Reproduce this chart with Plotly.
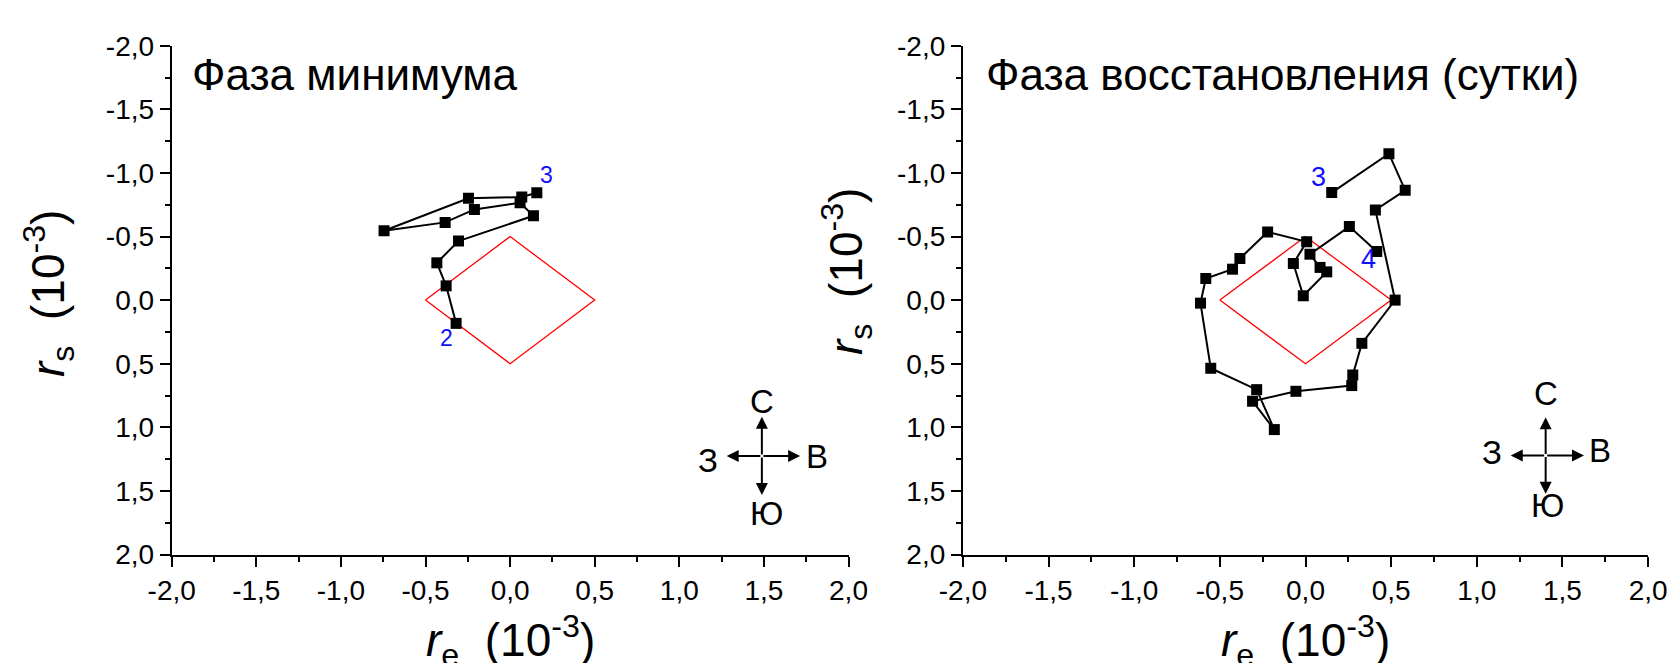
import plotly.graph_objects as go

# ---- data (units of 1e-3) ----
left_re = [-0.319, -0.378, -0.433, -0.305, 0.138, 0.059, -0.211, -0.384, -0.745, -0.246, 0.069, 0.158]
left_rs = [0.183, -0.112, -0.293, -0.464, -0.663, -0.765, -0.713, -0.611, -0.545, -0.800, -0.810, -0.844]

right_re = [0.153, 0.487, 0.582, 0.408, 0.523, 0.329, 0.276, 0.270, -0.056, -0.309, -0.182, -0.285,
            -0.553, -0.613, -0.582, -0.426, -0.383, -0.221, 0.007, -0.071, -0.013, 0.124, 0.085,
            0.026, 0.256, 0.416]
right_rs = [-0.845, -1.151, -0.863, -0.709, 0.000, 0.340, 0.589, 0.672, 0.717, 0.795, 1.018, 0.704,
            0.536, 0.024, -0.170, -0.243, -0.327, -0.536, -0.458, -0.288, -0.034, -0.222, -0.257,
            -0.361, -0.578, -0.382]

diamond_re = [-0.5, 0.0, 0.5, 0.0, -0.5]
diamond_rs = [0.0, -0.5, 0.0, 0.5, 0.0]

tick_vals = [-2.0, -1.5, -1.0, -0.5, 0.0, 0.5, 1.0, 1.5, 2.0]
tick_text = ['-2,0', '-1,5', '-1,0', '-0,5', '0,0', '0,5', '1,0', '1,5', '2,0']

titles = ['Фаза минимума', 'Фаза восстановления (сутки)']
left_labels = [('2', -0.374, 0.30), ('3', 0.213, -0.98)]
right_labels = [('3', 0.075, -0.97), ('4', 0.368, -0.32)]
compass_letters = ['С', 'З', 'В', 'Ю']

W, H = 1671, 663
FONT = 'Liberation Sans, Arial, sans-serif'

def px_x(p):
    return p / W

def px_y(p):
    return 1 - p / H

ydom = [px_y(554.5), px_y(45.7)]
xdom_l = [px_x(171.7), px_x(848.5)]
xdom_r = [px_x(962.9), px_x(1648.1)]

fig = go.Figure()

def add_panel(xa, ya, re, rs):
    fig.add_trace(go.Scatter(x=diamond_re, y=diamond_rs, mode='lines',
                             line=dict(color='#ff0000', width=1.3),
                             xaxis=xa, yaxis=ya, showlegend=False, hoverinfo='skip'))
    fig.add_trace(go.Scatter(x=re, y=rs, mode='lines+markers',
                             line=dict(color='black', width=2),
                             marker=dict(symbol='square', size=11, color='black'),
                             xaxis=xa, yaxis=ya, showlegend=False))

add_panel('x', 'y', left_re, left_rs)
add_panel('x2', 'y2', right_re, right_rs)

axis_common = dict(
    automargin=False,
    showline=True, linecolor='black', linewidth=2, mirror=False,
    showgrid=False, zeroline=False,
    ticks='outside', ticklen=10, tickwidth=2, tickcolor='black',
    tickvals=tick_vals, ticktext=tick_text,
    tickfont=dict(family=FONT, size=28, color='black'),
    minor=dict(ticks='outside', ticklen=5, tickwidth=2, tickcolor='black', dtick=0.25, tick0=0),
)

fig.update_layout(
    template='none',
    width=W, height=H,
    margin=dict(l=0, r=0, t=0, b=0, pad=0, autoexpand=False),
    paper_bgcolor='white', plot_bgcolor='white',
    font=dict(family=FONT, color='black'),
    xaxis=dict(domain=xdom_l, range=[-2, 2], anchor='y', **axis_common),
    yaxis=dict(domain=ydom, range=[2, -2], anchor='x', **axis_common),
    xaxis2=dict(domain=xdom_r, range=[-2, 2], anchor='y2', **axis_common),
    yaxis2=dict(domain=ydom, range=[2, -2], anchor='x2', **axis_common),
)

ann = []
# panel titles
ann.append(dict(text=titles[0], xref='paper', yref='paper', x=px_x(190), y=px_y(74),
                xanchor='left', yanchor='middle', showarrow=False,
                font=dict(family=FONT, size=44, color='black')))
ann.append(dict(text=titles[1], xref='paper', yref='paper', x=px_x(984), y=px_y(74),
                xanchor='left', yanchor='middle', showarrow=False,
                font=dict(family=FONT, size=44, color='black')))

# axis titles
xt = '<i>r</i><sub>e</sub>\u00a0\u00a0(10<sup>-3</sup>)'
yt = '<i>r</i><sub>s</sub>\u00a0\u00a0(10<sup>-3</sup>)'
for xr in ('x', 'x2'):
    ann.append(dict(text=xt, xref=xr, yref='paper', x=0.0, y=px_y(640),
                    xanchor='center', yanchor='middle', showarrow=False,
                    font=dict(family=FONT, size=46, color='black')))
for px, py in ((48, 294), (846, 271)):
    ann.append(dict(text=yt, xref='paper', yref='paper', x=px_x(px), y=px_y(py),
                    xanchor='center', yanchor='middle', showarrow=False, textangle=-90,
                    font=dict(family=FONT, size=46, color='black')))

# point labels
for t, x, y in left_labels:
    ann.append(dict(text=t, xref='x', yref='y', x=x, y=y, showarrow=False,
                    font=dict(family=FONT, size=23, color='#1010ff')))
for t, x, y in right_labels:
    ann.append(dict(text=t, xref='x2', yref='y2', x=x, y=y, showarrow=False,
                    font=dict(family=FONT, size=27, color='#1010ff')))

# compass roses
def compass(xr, yr, cx, cy, up, down, left, right, pos):
    for hx, hy in ((cx, up), (cx, down), (left, cy), (right, cy)):
        ann.append(dict(text='', xref=xr, yref=yr, x=hx, y=hy, ax=cx, ay=cy,
                        axref=xr, ayref=yr, showarrow=True, arrowhead=2,
                        arrowsize=1.2, arrowwidth=2, arrowcolor='black'))
    for letter, (lx, ly) in zip(compass_letters, pos):
        ann.append(dict(text=letter, xref=xr, yref=yr, x=lx, y=ly, showarrow=False,
                        font=dict(family=FONT, size=33, color='black')))

compass('x', 'y', 1.488, 1.226, 0.917, 1.533, 1.280, 1.714,
        [(1.488, 0.80), (1.170, 1.258), (1.813, 1.232), (1.517, 1.677)])
compass('x2', 'y2', 1.402, 1.222, 0.921, 1.523, 1.198, 1.626,
        [(1.402, 0.738), (1.091, 1.195), (1.722, 1.183), (1.412, 1.615)])

fig.update_layout(annotations=ann)
fig.write_html('out.html')
